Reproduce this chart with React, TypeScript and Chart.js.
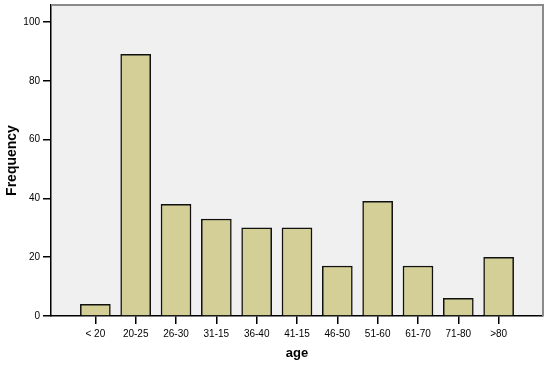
import React, { useEffect, useRef } from "react";
import { Chart, registerables } from "chart.js";

Chart.register(...registerables);

const categories = ["< 20", "20-25", "26-30", "31-15", "36-40", "41-15", "46-50", "51-60", "61-70", "71-80", ">80"];
const frequencies = [4, 89, 38, 33, 30, 30, 17, 39, 17, 6, 20];
const yTicks = [0, 20, 40, 60, 80, 100];

const FONT = "'Liberation Sans', Arial, sans-serif";

const bgPlugin = {
  id: "plotBg",
  beforeDraw(chart: any) {
    const { ctx, chartArea } = chart;
    const { left, top, right, bottom } = chartArea;
    ctx.save();
    ctx.fillStyle = "#f0f0f0";
    ctx.fillRect(left, top, right - left, bottom - top);
    ctx.restore();
  },
  afterDraw(chart: any) {
    const { ctx, chartArea } = chart;
    const { left, top, right, bottom } = chartArea;
    ctx.save();
    ctx.strokeStyle = "#8a8a8a";
    ctx.lineWidth = 2;
    ctx.beginPath();
    ctx.moveTo(left, top);
    ctx.lineTo(right, top);
    ctx.lineTo(right, bottom);
    ctx.stroke();
    ctx.restore();
  },
};

export default function App() {
  const ref = useRef<HTMLCanvasElement | null>(null);
  useEffect(() => {
    if (!ref.current) return;
    const chart = new Chart(ref.current, {
      type: "bar",
      data: {
        datasets: [
          {
            data: frequencies.map((v, i) => ({ x: i, y: v })),
            backgroundColor: "#d4cf97",
            borderColor: "#111111",
            borderWidth: 1.5,
            barThickness: 30,
          } as any,
        ],
      },
      options: {
        animation: false,
        responsive: false,
        maintainAspectRatio: false,
        layout: { padding: { top: 5, right: 7, left: 0, bottom: 0 } },
        plugins: { legend: { display: false }, tooltip: { enabled: false } },
        scales: {
          x: {
            type: "linear",
            min: -1.1,
            max: 11.1,
            offset: false,
            afterBuildTicks: (scale: any) => {
              scale.ticks = categories.map((_, i) => ({ value: i }));
            },
            afterFit: (scale: any) => {
              scale.height = 49;
              scale.paddingLeft = 0;
              scale.paddingRight = 0;
            },
            ticks: {
              callback: (v: any) => categories[v as number] ?? "",
              color: "#000",
              font: { family: FONT, size: 10 },
              padding: 4,
              maxRotation: 0,
              autoSkip: false,
            },
            grid: { offset: false, drawOnChartArea: false, drawTicks: true, tickLength: 8, color: "#000", lineWidth: 1.5 },
            border: { display: true, color: "#000", width: 1.5 },
            title: {
              display: true,
              text: "age",
              color: "#000",
              font: { family: FONT, size: 13, weight: "bold" },
              padding: { top: 4, bottom: 4 },
            },
          },
          y: {
            min: 0,
            max: 105.8,
            afterBuildTicks: (scale: any) => {
              scale.ticks = yTicks.map((v) => ({ value: v }));
            },
            afterFit: (scale: any) => {
              scale.width = 51;
              scale.paddingTop = 0;
              scale.paddingBottom = 0;
            },
            ticks: {
              color: "#000",
              font: { family: FONT, size: 10 },
              padding: 3,
            },
            grid: { drawOnChartArea: false, drawTicks: true, tickLength: 8, color: "#000", lineWidth: 1.5 },
            border: { display: true, color: "#000", width: 1.5 },
            title: {
              display: true,
              text: "Frequency",
              color: "#000",
              font: { family: FONT, size: 14, weight: "bold" },
              padding: { top: 4, bottom: 4 },
            },
          },
        },
      },
      plugins: [bgPlugin],
    } as any);
    return () => chart.destroy();
  }, []);
  return (
    <div style={{ position: "fixed", left: 0, top: 0, width: 550, height: 365, background: "#fff" }}>
      <canvas ref={ref} width={550} height={365} style={{ width: 550, height: 365 }} />
    </div>
  );
}
